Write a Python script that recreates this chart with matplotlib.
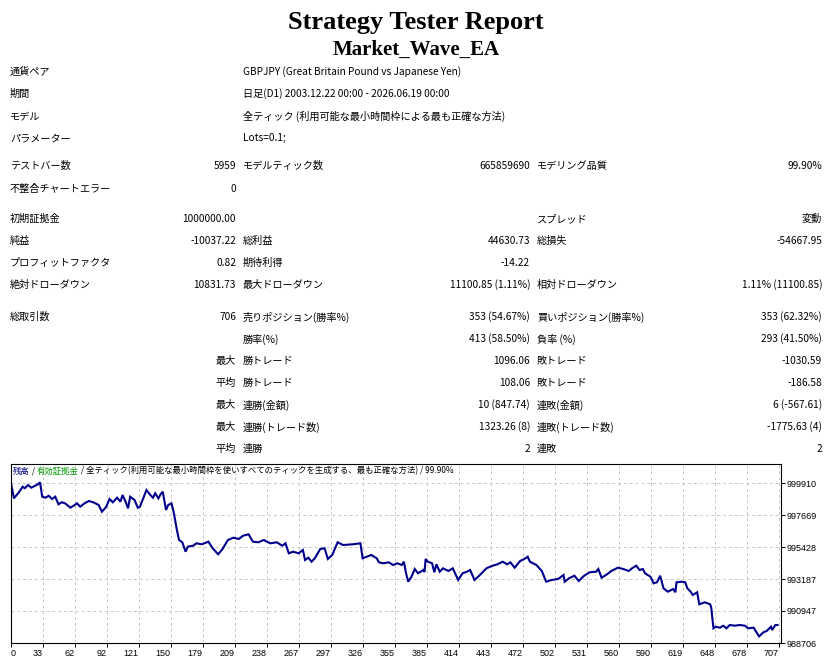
import matplotlib
matplotlib.use("Agg")
import matplotlib.pyplot as plt
import numpy as np

plt.rcParams["font.family"] = ["Noto Sans CJK JP", "DejaVu Sans"]

W, H = 832, 664

title = "Strategy Tester Report"
ea_name = "Market_Wave_EA"

info_labels = ["通貨ペア", "期間", "モデル", "パラメーター"]
info_values = ["GBPJPY (Great Britain Pound vs Japanese Yen)",
               "日足(D1) 2003.12.22 00:00 - 2026.06.19 00:00",
               "全ティック (利用可能な最小時間枠による最も正確な方法)",
               "Lots=0.1;"]

stat_rows = [
    ("テストバー数", "5959", "モデルティック数", "665859690", "モデリング品質", "99.90%"),
    ("不整合チャートエラー", "0", "", "", "", ""),
    ("初期証拠金", "1000000.00", "", "", "スプレッド", "変動"),
    ("純益", "-10037.22", "総利益", "44630.73", "総損失", "-54667.95"),
    ("プロフィットファクタ", "0.82", "期待利得", "-14.22", "", ""),
    ("絶対ドローダウン", "10831.73", "最大ドローダウン", "11100.85 (1.11%)", "相対ドローダウン", "1.11% (11100.85)"),
    ("総取引数", "706", "売りポジション(勝率%)", "353 (54.67%)", "買いポジション(勝率%)", "353 (62.32%)"),
]

trade_prefix = ["", "最大", "平均", "最大", "最大", "平均"]
trade_rows = [
    ("勝率(%)", "413 (58.50%)", "負率 (%)", "293 (41.50%)"),
    ("勝トレード", "1096.06", "敗トレード", "-1030.59"),
    ("勝トレード", "108.06", "敗トレード", "-186.58"),
    ("連勝(金額)", "10 (847.74)", "連敗(金額)", "6 (-567.61)"),
    ("連勝(トレード数)", "1323.26 (8)", "連敗(トレード数)", "-1775.63 (4)"),
    ("連勝", "2", "連敗", "2"),
]

# balance curve (trade number, balance)
trade_no = [0, 3, 6, 8, 11, 13, 16, 19, 22, 25,
            27, 29, 32, 35, 38, 41, 44, 47, 50, 55,
            58, 61, 64, 68, 72, 76, 81, 84, 88, 91,
            94, 98, 101, 103, 106, 108, 110, 114, 117, 119,
            122, 125, 128, 131, 133, 136, 138, 140, 143, 145,
            148, 150, 153, 155, 158, 161, 163, 168, 171, 176,
            182, 186, 191, 195, 200, 205, 210, 214, 219, 223,
            228, 233, 239, 245, 250, 253, 256, 260, 265, 269,
            271, 274, 277, 280, 285, 289, 292, 296, 301, 306,
            315, 322, 324, 328, 332, 337, 339, 343, 348, 352,
            356, 360, 362, 364, 366, 369, 372, 375, 380, 381,
            382, 384, 388, 390, 392, 395, 398, 403, 407, 412,
            416, 420, 423, 427, 432, 438, 443, 448, 453, 457,
            460, 464, 469, 474, 476, 478, 484, 489, 493, 498,
            504, 509, 510, 514, 519, 523, 528, 533, 539, 541,
            544, 549, 553, 559, 564, 569, 572, 576, 579, 582,
            584, 589, 592, 595, 598, 601, 605, 610, 612, 613,
            618, 621, 623, 626, 628, 632, 634, 639, 644, 645,
            647, 649, 653, 656, 659, 662, 667, 671, 676, 679,
            684, 689, 693, 696, 700, 701, 704, 706]
balance = [1000000, 998839, 999119, 999302, 999652, 999540, 999771, 999582, 999701, 999820,
           999960, 998951, 998881, 999021, 998790, 998951, 998419, 998559, 998489, 998181,
           998321, 998489, 998251, 998489, 998650, 998559, 998370, 997901, 998251, 998790,
           998559, 998881, 998601, 999070, 998559, 998139, 998951, 998720, 998181, 998251,
           998839, 999421, 999119, 998881, 999189, 998839, 999119, 999302, 998020, 998370,
           998489, 997901, 996619, 995919, 995758, 995100, 995450, 995520, 995688, 995618,
           995800, 995338, 994918, 995289, 995919, 996080, 995989, 996220, 996318, 995800,
           995758, 995919, 995688, 995758, 995520, 995688, 994988, 995100, 994988, 995219,
           994518, 994680, 994399, 994638, 995289, 995338, 994589, 994869, 995758, 995569,
           995618, 995688, 994638, 994750, 994869, 994638, 994357, 994287, 994357, 994168,
           994287, 994168, 994399, 993587, 992999, 993349, 993888, 993587, 993818, 993678,
           994589, 994399, 994287, 993657, 994217, 993699, 993937, 993748, 993937, 993118,
           993587, 993699, 993818, 993118, 993468, 993937, 994098, 994217, 994399, 994217,
           994357, 993979, 994448, 994638, 994750, 994399, 994168, 993748, 992999, 993118,
           993188, 993468, 992999, 993237, 993419, 993048, 993419, 993657, 993699, 993888,
           993279, 993517, 993748, 993979, 993888, 993748, 993937, 994119, 993818, 993888,
           993587, 993349, 992887, 992957, 993419, 992537, 992299, 992488, 992257, 992957,
           992999, 992957, 992537, 992299, 992067, 992257, 991416, 991556, 991416, 991178,
           989735, 989847, 989777, 989918, 989735, 989967, 989918, 989967, 989918, 989735,
           989777, 989168, 989455, 989546, 989847, 989616, 989967, 989962.78]

x_labels = ["0", "33", "62", "92", "121", "150", "179", "209", "238", "267", "297", "326",
            "355", "385", "414", "443", "472", "502", "531", "560", "590", "619", "648",
            "678", "707"]
y_ticks = [988706, 990947, 993187, 995428, 997669, 999910]

legend_parts = [("残高", "#000080"), (" / ", "black"), ("有効証拠金", "#009900"),
                (" / 全ティック(利用可能な最小時間枠を使いすべてのティックを生成する、最も正確な方法) / 99.90%", "black")]


def px(x, y):
    return x / W, 1 - y / H


fig = plt.figure(figsize=(W / 100, H / 100), dpi=100)
fig.patch.set_facecolor("white")

fig.text(*px(416, 28.5), title, ha="center", va="baseline", fontsize=19,
         fontweight="bold", family="Liberation Serif")
fig.text(*px(416, 55), ea_name, ha="center", va="baseline", fontsize=15,
         fontweight="bold", family="Liberation Serif")

fs = 7.3
col_label = [10, 243, 537]
col_value = [236, 530, 822]

for i, (lab, val) in enumerate(zip(info_labels, info_values)):
    y = [72, 94, 116, 138][i]
    fig.text(*px(col_label[0], y), lab, ha="left", va="center", fontsize=fs)
    fig.text(*px(col_label[1], y), val, ha="left", va="center", fontsize=fs)

stat_y = [166, 189, 219, 241, 263, 285, 317]
for y, row in zip(stat_y, stat_rows):
    for c in range(3):
        lab, val = row[2 * c], row[2 * c + 1]
        if lab:
            fig.text(*px(col_label[c], y), lab, ha="left", va="center", fontsize=fs)
        if val:
            fig.text(*px(col_value[c], y), val, ha="right", va="center", fontsize=fs)

trade_y = [339, 361, 383, 405, 427, 449]
for y, pre, row in zip(trade_y, trade_prefix, trade_rows):
    if pre:
        fig.text(*px(236, y), pre, ha="right", va="center", fontsize=fs)
    for c in range(2):
        fig.text(*px(col_label[c + 1], y), row[2 * c], ha="left", va="center", fontsize=fs)
        fig.text(*px(col_value[c + 1], y), row[2 * c + 1], ha="right", va="center", fontsize=fs)

# balance chart
left, right, top, bottom = 10.7, 781, 464, 643
ax = fig.add_axes([left / W, 1 - bottom / H, (right - left) / W, (bottom - top) / H])
ax.plot(trade_no, balance, color="#00008c", lw=1.5, solid_joinstyle="miter")
ax.set_xlim(0, 709.2)
ax.set_ylim(988706, 1001241)

xt = np.linspace(0, 707, len(x_labels))
ax.set_xticks(xt)
ax.set_xticklabels(x_labels, family="Liberation Sans", fontsize=6.5)
for k, t in enumerate(ax.get_xticklabels()):
    t.set_ha("left" if k == 0 else "right")
ax.set_yticks(y_ticks)
ax.set_yticklabels([str(v) for v in y_ticks], family="Liberation Sans", fontsize=6.5)
ax.yaxis.tick_right()
ax.tick_params(axis="both", length=3, width=0.7, direction="out", color="black", pad=1.2)
ax.grid(True, color="#c8c8c8", linestyle=(0, (3, 3)), linewidth=0.7)
for s in ax.spines.values():
    s.set_linewidth(0.8)

t = ax.text(0.003, 0.96, legend_parts[0][0], transform=ax.transAxes, ha="left",
            va="center", fontsize=6.0, color=legend_parts[0][1])
for s, c in legend_parts[1:]:
    t = ax.annotate(s, xy=(1, 0), xycoords=t, va="bottom", ha="left",
                    fontsize=6.0, color=c)

fig.savefig("out.png", dpi=100, facecolor="white")
